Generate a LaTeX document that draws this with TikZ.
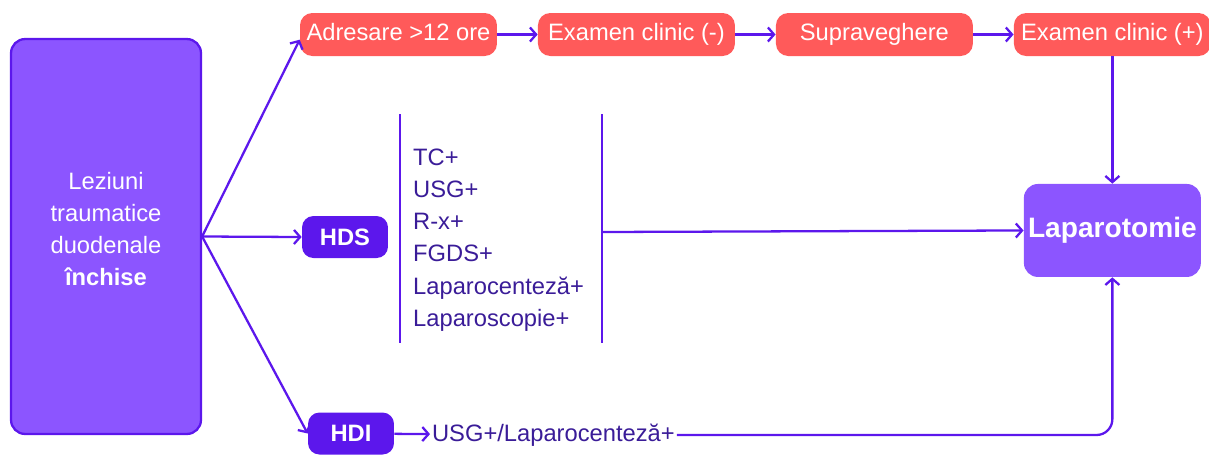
\documentclass[tikz,border=0pt]{standalone}
\usepackage{fontspec}
\setmainfont{Liberation Sans}
\usetikzlibrary{positioning,arrows.meta}

\definecolor{redbox}{HTML}{FF5A5A}
\definecolor{lilac}{HTML}{8C55FF}
\definecolor{deepviolet}{HTML}{5C17EC}
\definecolor{listtext}{HTML}{3A1C98}

\begin{document}
\begin{tikzpicture}[x=0.02cm,y=-0.02cm,node distance=4.76cm,on grid,
    every node/.style={font=\fontsize{13.5}{18.1}\selectfont},
    redstep/.style={rectangle,rounded corners=7pt,fill=redbox,text=white,
        minimum width=3.94cm,minimum height=0.86cm,inner sep=0pt,
        text height=0.68em,text depth=0pt},
    hd/.style={rectangle,rounded corners=6.5pt,fill=deepviolet,text=white,
        minimum width=1.72cm,minimum height=0.84cm,inner sep=0pt,
        font=\bfseries\fontsize{13.5}{18}\selectfont},
    big/.style={rectangle,rounded corners=8pt,fill=lilac,text=white,inner sep=0pt},
    link/.style={draw=deepviolet,line width=1.3pt,-{Straight Barb[length=3.5pt,width=8pt]}},
    bar/.style={draw=deepviolet,line width=1.3pt}]
    \useasboundingbox (0,0) rectangle (1209,454);

    \node[big,draw=deepviolet,line width=1.3pt,minimum width=3.8cm,minimum height=7.9cm] (lez) at (106,236.5) {};
    \node[align=center,text=white] (leztext) at (106,229) {Leziuni\\traumatice\\duodenale\\\textbf{închise}};

    \node[redstep] (adr) at (398.5,34.5) {Adresare >12 ore};
    \node[redstep] (exneg) [right=of adr] {Examen clinic (-)};
    \node[redstep] (supr) [right=of exneg] {Supraveghere};
    \node[redstep] (expos) [right=of supr] {Examen clinic (+)};
    \node[big,minimum width=3.54cm,minimum height=1.86cm,
          font=\bfseries\fontsize{16}{18}\selectfont] (lap) [below=3.92cm of expos] {Laparotomie};

    \node[hd] (hds) at (345,237) {HDS};
    \node[hd] (hdi) at (351,433.5) {HDI};

    \node[anchor=west,align=left,text=listtext,font=\fontsize{13.5}{18.4}\selectfont] (tests) at (407,240)
        {TC+\\USG+\\R-x+\\FGDS+\\Laparocenteză+\\Laparoscopie+};
    \node[anchor=west,text=listtext,inner sep=1pt] (usg) at (430,435) {USG+/Laparocenteză+};

    \coordinate (barR) at (602,232);
    \draw[bar] (400,114) -- (400,343);
    \draw[bar] (602,114) -- (602,343);

    \path[every edge/.style=link]
    (lez.east) edge (adr.183)
               edge (hds.west)
               edge (hdi.west)
    (adr) edge (exneg)
    (exneg) edge (supr)
    (supr) edge (expos)
    (expos) edge (lap)
    (barR) edge (lap.west)
    (hdi) edge (usg);
    \draw[link,rounded corners=9pt] (usg.east) -| (lap.south);
\end{tikzpicture}
\end{document}
